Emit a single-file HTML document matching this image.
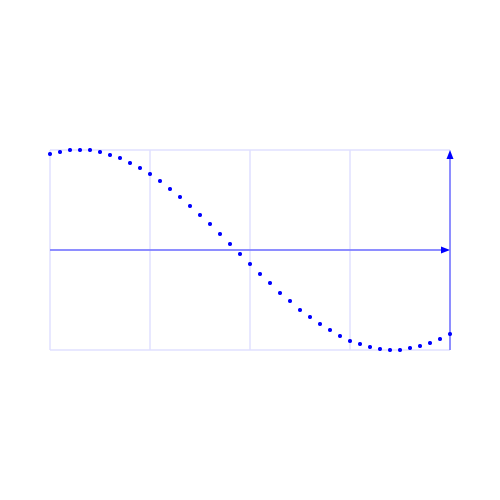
<!DOCTYPE html>
<html><head><meta charset="utf-8"><style>html,body{margin:0;padding:0;background:#fff;width:500px;height:500px;overflow:hidden}</style></head>
<body>
<svg id="chart" width="500" height="500" xmlns="http://www.w3.org/2000/svg">
<g id="grid"></g>
<g id="axes"></g>
<g id="dots"></g>
</svg>
<script>
const xValues = [0,1,2,3,4,5,6,7,8,9,10,11,12,13,14,15,16,17,18,19,20,21,22,23,24,25,26,27,28,29,30,31,32,33,34,35,36,37,38,39,40];
const yValues = [0.96,0.98,1.0,1.0,1.0,0.98,0.95,0.92,0.87,0.82,0.76,0.69,0.61,0.53,0.44,0.35,0.26,0.16,0.06,-0.04,-0.14,-0.24,-0.33,-0.43,-0.51,-0.60,-0.67,-0.74,-0.80,-0.86,-0.91,-0.94,-0.97,-0.99,-1.0,-1.0,-0.98,-0.96,-0.93,-0.89,-0.84];
const xGridTicks = [0,10,20,30,40];
const yGridTicks = [-1,0,1];
const NS="http://www.w3.org/2000/svg";
const sx=v=>50+v*10, sy=v=>250-v*100;
function mk(tag,attrs,parent){const e=document.createElementNS(NS,tag);for(const k in attrs)e.setAttribute(k,attrs[k]);parent.appendChild(e);return e;}
const grid=document.getElementById('grid'),axes=document.getElementById('axes'),dots=document.getElementById('dots');
xGridTicks.forEach(t=>{const l=mk('line',{x1:sx(t),x2:sx(t),y1:sy(1),y2:sy(-1),stroke:'#e0e0ff','stroke-width':1.5},grid);

});
yGridTicks.forEach(t=>{const l=mk('line',{x1:sx(0),x2:sx(40),y1:sy(t),y2:sy(t),stroke:'#e0e0ff','stroke-width':1.5},grid);

});
const xa=mk('line',{x1:sx(0),x2:sx(40)-6,y1:sy(0),y2:sy(0),stroke:'#6f6fff','stroke-width':1.5},axes);


const xh=mk('polygon',{points:`${sx(40)},${sy(0)} ${sx(40)-9},${sy(0)-3.5} ${sx(40)-9},${sy(0)+3.5}`,fill:'#0000ff'},axes);


const ya=mk('line',{x1:sx(40),x2:sx(40),y1:sy(-1),y2:sy(1)+6,stroke:'#6f6fff','stroke-width':1.5},axes);


const yh=mk('polygon',{points:`${sx(40)},${sy(1)} ${sx(40)-3.5},${sy(1)+9} ${sx(40)+3.5},${sy(1)+9}`,fill:'#0000ff'},axes);


xValues.forEach((x,i)=>{const c=mk('circle',{cx:sx(x),cy:sy(yValues[i]),r:2,fill:'#0000ff'},dots);

});
</script>
</body></html>
